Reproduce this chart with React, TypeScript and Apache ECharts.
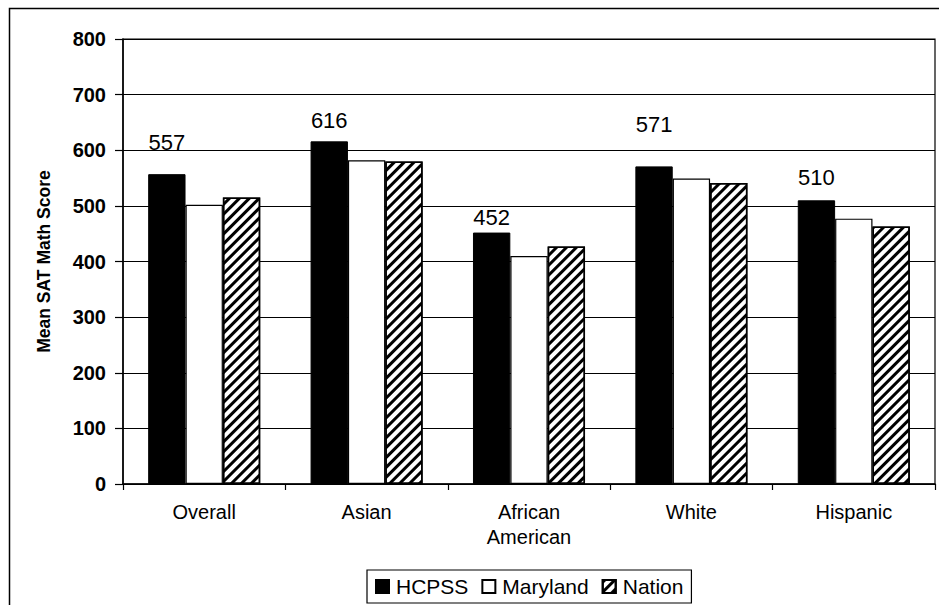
import React, { useEffect, useRef } from "react";
import * as echarts from "echarts";

const categories = ["Overall", "Asian", "African\nAmerican", "White", "Hispanic"];
const seriesNames = ["HCPSS", "Maryland", "Nation"];
const hcpss = [557, 616, 452, 571, 510];
const maryland = [502, 582, 410, 549, 477];
const nation = [515, 580, 427, 541, 463];
const yTicks = { min: 0, max: 800, interval: 100 };
const yAxisTitle = "Mean SAT Math Score";

// vertical nudges of the HCPSS value labels (style only)
const labelNudge = [-16, -5, 1, -26, -7];

const FONT = "'Liberation Sans', Arial, sans-serif";

export default function App() {
  const ref = useRef<HTMLDivElement>(null);
  useEffect(() => {
    if (!ref.current) return;
    const chart = echarts.init(ref.current, undefined, { renderer: "svg" });
    const option: any = {
      animation: false,
      backgroundColor: "#fff",
      textStyle: { fontFamily: FONT, color: "#000" },
      graphic: [
        {
          type: "rect",
          shape: { x: 9.5, y: 8.5, width: 940, height: 620 },
          style: { fill: "none", stroke: "#000", lineWidth: 1.5 },
          silent: true,
        },
      ],
      grid: {
        left: 123,
        right: 4,
        top: 39,
        bottom: 121,
        show: true,
        borderColor: "#000",
        borderWidth: 1.2,
        backgroundColor: "transparent",
      },
      legend: {
        data: seriesNames,
        left: 367,
        top: 570,
        orient: "horizontal",
        padding: [6, 8, 6, 8],
        itemWidth: 13,
        itemHeight: 13,
        itemGap: 13,
        borderColor: "#000",
        borderWidth: 1.2,
        backgroundColor: "#fff",
        icon: "rect",
        textStyle: { fontFamily: FONT, fontSize: 21, color: "#000", padding: [0, 0, 0, 2] },
      },
      xAxis: {
        type: "category",
        data: categories,
        axisLine: { show: true, lineStyle: { color: "#000", width: 1.5 } },
        axisTick: { show: true, length: 6, lineStyle: { color: "#000", width: 1.2 } },
        axisLabel: {
          fontFamily: FONT,
          fontSize: 20,
          color: "#000",
          margin: 15,
          lineHeight: 25,
          interval: 0,
        },
        splitLine: { show: false },
      },
      yAxis: {
        type: "value",
        min: yTicks.min,
        max: yTicks.max,
        interval: yTicks.interval,
        name: yAxisTitle,
        nameLocation: "middle",
        nameGap: 70,
        nameTextStyle: { fontFamily: FONT, fontSize: 17.5, fontWeight: "bold", color: "#000" },
        axisLine: { show: true, lineStyle: { color: "#000", width: 1.5 } },
        axisTick: { show: true, length: 8, lineStyle: { color: "#000", width: 1.2 } },
        axisLabel: { fontFamily: FONT, fontSize: 20, fontWeight: "bold", color: "#000", margin: 17 },
        splitLine: { show: true, lineStyle: { color: "#000", width: 1 } },
      },
      series: [
        {
          name: seriesNames[0],
          type: "bar",
          barGap: "0%",
          barCategoryGap: "31%",
          itemStyle: { color: "#000", borderColor: "#000", borderWidth: 1 },
          data: hcpss.map((v, i) => ({
            value: v,
            label: { offset: [0, labelNudge[i]] },
          })),
          label: {
            show: true,
            position: "top",
            distance: 5,
            fontFamily: FONT,
            fontSize: 22,
            color: "#000",
          },
        },
        {
          name: seriesNames[1],
          type: "bar",
          barGap: "0%",
          barCategoryGap: "31%",
          itemStyle: { color: "#fff", borderColor: "#000", borderWidth: 1.2 },
          data: maryland,
        },
        {
          name: seriesNames[2],
          type: "bar",
          barGap: "0%",
          barCategoryGap: "31%",
          itemStyle: {
            color: "#fff",
            borderColor: "#000",
            borderWidth: 1.5,
            decal: {
              symbol: "rect",
              symbolSize: 1,
              dashArrayX: [1, 0],
              dashArrayY: [3, 4],
              rotation: -Math.PI / 4,
              color: "#000",
              backgroundColor: "#fff",
            },
          },
          data: nation,
        },
      ],
    };
    chart.setOption(option);
    return () => chart.dispose();
  }, []);
  return (
    <div
      ref={ref}
      style={{ position: "fixed", left: 0, top: 0, width: 939, height: 605, background: "#fff" }}
    />
  );
}
